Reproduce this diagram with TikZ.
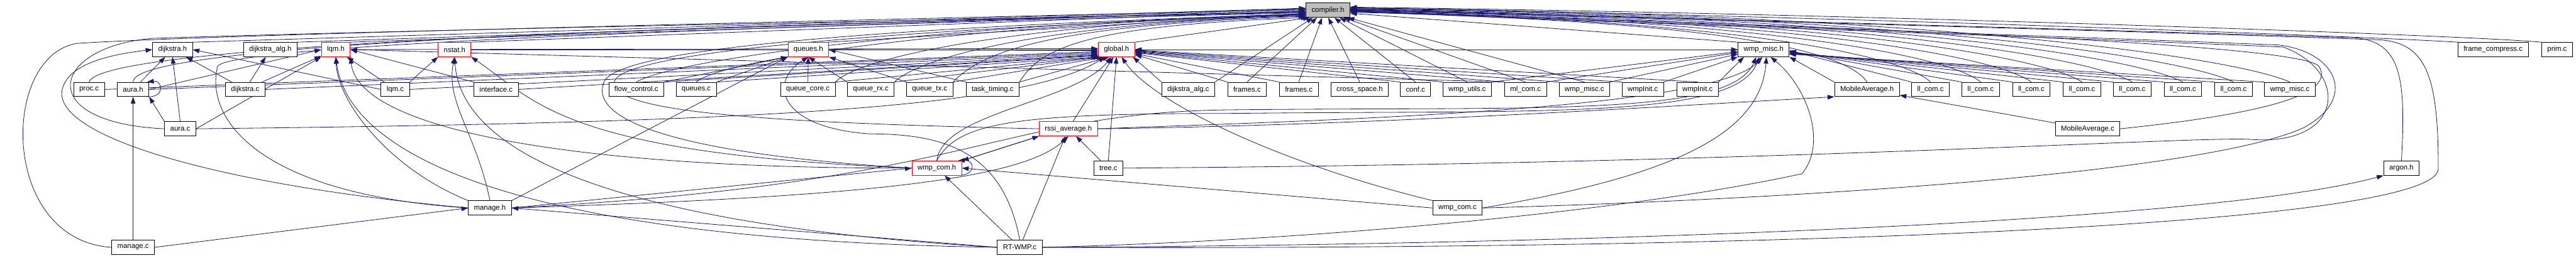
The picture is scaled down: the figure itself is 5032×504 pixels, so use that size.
\documentclass[tikz,border=0pt]{standalone}
\usepackage{fontspec}
\setmainfont{Liberation Sans}
\usetikzlibrary{arrows.meta,backgrounds}
\definecolor{edgeblue}{RGB}{25,25,112}

\begin{document}
\begin{tikzpicture}[
        x=1pt, y=1pt,
        file/.style={draw=black, fill=white, line width=1pt, font=\fontsize{14}{16}\selectfont,
            minimum height=28pt, inner xsep=11pt, inner ysep=0pt},
        trunc/.style={file, draw=red},
        root/.style={file, fill=black!25},
        inc/.style={draw=edgeblue, line width=1pt, -{Triangle[length=13pt,width=9pt]}}
    ]
        \useasboundingbox (0,0) rectangle (5032,-504);

        % Included file
        \node[root] (cmp) at (2594,-20) {compiler.h};

        % Headers
        \node[file] (dijh) at (337,-97) {dijkstra.h};
        \node[file] (dalgh) at (528,-97) {dijkstra\_alg.h};
        \node[trunc] (lqmh) at (656,-97) {lqm.h};
        \node[trunc] (nstath) at (888,-97) {nstat.h};
        \node[trunc] (queuesh) at (1579,-97) {queues.h};
        \node[trunc] (globalh) at (2181,-97) {global.h};
        \node[file] (miscH) at (3445,-97) {wmp\_misc.h};
        \node[file] (fcomp) at (4870,-97) {frame\_compress.c};
        \node[file] (prim) at (4995,-97) {prim.c};

        % Middle row
        \node[file] (procc) at (174,-175) {proc.c};
        \node[file] (aurah) at (260,-175) {aura.h};
        \node[file] (dijc) at (479,-175) {dijkstra.c};
        \node[file] (lqmc) at (772,-175) {lqm.c};
        \node[file] (ifacec) at (969,-175) {interface.c};
        \node[file] (flowc) at (1243,-175) {flow\_control.c};
        \node[file] (queuesc) at (1360,-175) {queues.c};
        \node[file] (qcorec) at (1578,-175) {queue\_core.c};
        \node[file] (qrxc) at (1701,-175) {queue\_rx.c};
        \node[file] (qtxc) at (1816,-175) {queue\_tx.c};
        \node[file] (ttimc) at (1939,-175) {task\_timing.c};
        \node[file] (dalgc) at (2321,-175) {dijkstra\_alg.c};
        \node[file] (framesa) at (2436,-175) {frames.c};
        \node[file] (framesb) at (2537,-175) {frames.c};
        \node[file] (xspace) at (2656,-175) {cross\_space.h};
        \node[file] (confc) at (2765,-175) {conf.c};
        \node[file] (utilsc) at (2866,-175) {wmp\_utils.c};
        \node[file] (mlcom) at (2980,-175) {ml\_com.c};
        \node[file] (miscca) at (3095,-175) {wmp\_misc.c};
        \node[file] (initca) at (3209,-175) {wmpInit.c};
        \node[file] (initcb) at (3316,-175) {wmpInit.c};
        \node[file] (mavgh) at (3647,-175) {MobileAverage.h};
        \node[file] (llcoma) at (3771,-175) {ll\_com.c};
        \node[file] (llcomb) at (3869,-175) {ll\_com.c};
        \node[file] (llcomc) at (3968,-175) {ll\_com.c};
        \node[file] (llcomd) at (4067,-175) {ll\_com.c};
        \node[file] (llcome) at (4165,-175) {ll\_com.c};
        \node[file] (llcomf) at (4264,-175) {ll\_com.c};
        \node[file] (llcomg) at (4363,-175) {ll\_com.c};
        \node[file] (misccb) at (4473,-175) {wmp\_misc.c};

        % Lower rows
        \node[file] (aurac) at (352,-252) {aura.c};
        \node[trunc] (rssih) at (2087,-252) {rssi\_average.h};
        \node[file] (mavgc) at (4078,-252) {MobileAverage.c};
        \node[trunc] (comh) at (1830,-329) {wmp\_com.h};
        \node[file] (treec) at (2165,-329) {tree.c};
        \node[file] (argonh) at (4691,-329) {argon.h};
        \node[file] (manageh) at (957,-407) {manage.h};
        \node[file] (comc) at (2847,-407) {wmp\_com.c};
        \node[file] (managec) at (260,-484) {manage.c};
        \node[file] (rtwmp) at (1992,-484) {RT-WMP.c};

        \begin{scope}[on background layer]
        % Into compiler.h, from the left
        \draw[inc] (dijh.north east) -- ([yshift=4pt]cmp.west);
        \draw[inc] (dalgh.north east) -- ([yshift=3pt]cmp.west);
        \draw[inc] (lqmh.north east) -- ([yshift=1pt]cmp.west);
        \draw[inc] (nstath.north east) -- ([yshift=-1pt]cmp.west);
        \draw[inc] (queuesh.north east) -- ([yshift=-6pt]cmp.west);
        \draw[inc] (procc.north) .. controls (200,-80) and (1500,-50) .. ([yshift=-2pt]cmp.west);
        \draw[inc] (aurah.north) .. controls (255,-78) and (1500,-48) .. ([yshift=-3pt]cmp.west);
        \draw[inc] (aurac.west) .. controls (60,-240) and (100,-90) .. (300,-75) .. controls (800,-58) and (2000,-36) .. ([yshift=-4pt]cmp.west);
        \draw[inc] (managec.west) .. controls (0,-470) and (0,-110) .. (150,-85) .. controls (400,-68) and (1500,-44) .. ([yshift=2pt]cmp.west);
        \draw[inc] (manageh.west) .. controls (500,-380) and (400,-230) .. (425,-130) .. controls (445,-85) and (1600,-48) .. ([yshift=-5pt]cmp.west);
        \draw[inc] (comh.west) .. controls (1300,-300) and (1150,-230) .. (1180,-160) .. controls (1210,-95) and (1700,-55) .. ([yshift=-7pt]cmp.west);
        \draw[inc] (rssih.west) .. controls (1500,-240) and (1190,-220) .. (1200,-160) .. controls (1215,-100) and (1750,-58) .. ([yshift=-8pt]cmp.west);
        \draw[inc] (flowc.north) .. controls (1330,-110) and (1900,-45) .. ([yshift=-8pt]cmp.west);
        \draw[inc] (queuesc.north) .. controls (1420,-110) and (1950,-45) .. ([yshift=-9pt]cmp.west);
        \draw[inc] (qcorec.north east) .. controls (1680,-110) and (2000,-45) .. ([yshift=-10pt]cmp.west);
        \draw[inc] (qrxc.north east) .. controls (1800,-110) and (2050,-45) .. ([yshift=-11pt]cmp.west);
        \draw[inc] (qtxc.north east) .. controls (1920,-100) and (2050,-50) .. ([yshift=-12pt]cmp.west);
        \draw[inc] (ttimc.north east) .. controls (2030,-100) and (2100,-50) .. ([xshift=4pt]cmp.south west);

        % Into compiler.h, from below
        \draw[inc] (globalh.north east) -- ([xshift=8pt]cmp.south west);
        \draw[inc] (dalgc.north east) -- ([xshift=14pt]cmp.south west);
        \draw[inc] (framesa.north) -- ([xshift=22pt]cmp.south west);
        \draw[inc] (framesb.north) -- ([xshift=32pt]cmp.south west);
        \draw[inc] (xspace.north) -- ([xshift=44pt]cmp.south west);
        \draw[inc] (confc.north) -- ([xshift=56pt]cmp.south west);
        \draw[inc] (utilsc.north) -- ([xshift=66pt]cmp.south west);
        \draw[inc] (mlcom.north) -- ([xshift=74pt]cmp.south west);
        \draw[inc] (miscca.north) -- ([xshift=82pt]cmp.south west);

        % Into compiler.h, from the right
        \draw[inc] (miscH.north west) -- ([yshift=-6pt]cmp.east);
        \draw[inc] (mavgh.north) .. controls (3600,-90) and (3300,-40) .. ([yshift=-4pt]cmp.east);
        \draw[inc] (llcoma.north) .. controls (3720,-110) and (3400,-40) .. ([yshift=-3pt]cmp.east);
        \draw[inc] (llcomb.north) .. controls (3810,-110) and (3450,-38) .. ([yshift=-2pt]cmp.east);
        \draw[inc] (llcomc.north) .. controls (3900,-110) and (3500,-36) .. ([yshift=-1pt]cmp.east);
        \draw[inc] (llcomd.north) .. controls (3990,-110) and (3550,-34) .. (cmp.east);
        \draw[inc] (llcome.north) .. controls (4080,-110) and (3600,-32) .. ([yshift=1pt]cmp.east);
        \draw[inc] (llcomf.north) .. controls (4170,-110) and (3650,-30) .. ([yshift=2pt]cmp.east);
        \draw[inc] (llcomg.north) .. controls (4260,-110) and (3700,-28) .. ([yshift=3pt]cmp.east);
        \draw[inc] (misccb.north) .. controls (4360,-110) and (3750,-26) .. ([yshift=4pt]cmp.east);
        \draw[inc] (fcomp.north west) .. controls (4600,-70) and (3500,-30) .. ([yshift=5pt]cmp.east);
        \draw[inc] (prim.north west) .. controls (4800,-68) and (3600,-26) .. ([yshift=6pt]cmp.east);
        \draw[inc] (argonh.north) .. controls (4700,-150) and (4690,-82) .. (4600,-74) .. controls (4000,-55) and (3200,-34) .. ([yshift=2pt]cmp.east);
        \draw[inc] (rtwmp.east) .. controls (3500,-490) and (4763,-440) .. (4763,-330) .. controls (4763,-150) and (4740,-85) .. (4650,-78) .. controls (4000,-55) and (3200,-36) .. ([yshift=1pt]cmp.east);
        \draw[inc] (comc.east) .. controls (3500,-390) and (4300,-340) .. (4500,-250) .. controls (4610,-190) and (4560,-100) .. (4450,-88) .. controls (3800,-62) and (3000,-38) .. (cmp.east);
        \draw[inc] (treec.east) .. controls (3500,-320) and (4300,-265) .. (4400,-273) .. controls (4580,-285) and (4590,-140) .. (4460,-92) .. controls (3800,-64) and (3000,-40) .. ([yshift=-1pt]cmp.east);
        \draw[inc] (mavgc.east) .. controls (4450,-220) and (4560,-180) .. (4530,-130) .. controls (4500,-90) and (3800,-58) .. ([yshift=-2pt]cmp.east);

        % dijkstra.h, dijkstra_alg.h
        \draw[inc] (aurah) -- (dijh);
        \draw[inc] (aurac.north) -- (dijh.south);
        \draw[inc] (dijc) -- (dijh);
        \draw[inc] (lqmc.west) -- (dijh.east);
        \draw[inc] (manageh.west) .. controls (400,-360) and (90,-260) .. (123,-170) .. controls (140,-120) and (230,-105) .. (dijh.west);
        \draw[inc] (dijc) -- (dalgh);

        % lqm.h
        \draw[inc] (aurah.east) -- (lqmh.west);
        \draw[inc] (dijc) -- (lqmh);
        \draw[inc] (aurac.east) -- (lqmh.south west);
        \draw[inc] (lqmc) -- (lqmh);
        \draw[inc] (ifacec.north west) -- (lqmh.east);
        \draw[inc] (mlcom.north west) -- (lqmh.east);
        \draw[inc] (manageh.north west) .. controls (760,-330) and (660,-200) .. (lqmh.south);
        \draw[inc] (rtwmp.west) .. controls (1000,-470) and (680,-300) .. (lqmh.south);
        \draw[inc] (comh.west) .. controls (1100,-330) and (700,-250) .. (lqmh.south east);

        % nstat.h
        \draw[inc] (lqmc.north east) -- (nstath.south west);
        \draw[inc] (manageh.north) .. controls (930,-260) and (870,-200) .. (nstath.south);
        \draw[inc] (rtwmp.west) .. controls (1200,-440) and (900,-300) .. (nstath.south);
        \draw[inc] (comh.west) .. controls (1100,-300) and (1050,-200) .. (nstath.south east);

        % queues.h
        \draw[inc] (flowc.north east) -- (queuesh.south west);
        \draw[inc] (queuesc.north east) -- (queuesh.south west);
        \draw[inc] (qcorec) -- (queuesh);
        \draw[inc] (qrxc.north west) -- (queuesh.south);
        \draw[inc] (qtxc.north west) -- (queuesh.south east);
        \draw[inc] (ttimc.north west) -- (queuesh.east);
        \draw[inc] (manageh.north east) -- (queuesh.south west);
        \draw[inc] (rtwmp.north) .. controls (1960,-300) and (1850,-262) .. (1700,-262) .. controls (1520,-250) and (1500,-160) .. (queuesh.south);

        % global.h
        \draw[inc] (procc.east) -- ([yshift=-4pt]globalh.west);
        \draw[inc] (aurah.east) -- ([yshift=-6pt]globalh.west);
        \draw[inc] (dijc.east) -- ([yshift=-8pt]globalh.west);
        \draw[inc] (lqmc.east) -- ([yshift=-10pt]globalh.west);
        \draw[inc] (ifacec.east) -- ([yshift=-11pt]globalh.west);
        \draw[inc] (lqmh.east) -- ([yshift=2pt]globalh.west);
        \draw[inc] (nstath.east) -- (globalh.west);
        \draw[inc] (queuesh.east) -- ([yshift=-2pt]globalh.west);
        \draw[inc] (flowc.north east) -- ([yshift=-12pt]globalh.west);
        \draw[inc] (queuesc.north east) -- (globalh.south west);
        \draw[inc] (qcorec.north east) -- ([xshift=4pt]globalh.south west);
        \draw[inc] (qrxc.north east) -- ([xshift=10pt]globalh.south west);
        \draw[inc] (qtxc.north east) -- ([xshift=16pt]globalh.south west);
        \draw[inc] (ttimc.north east) -- ([xshift=22pt]globalh.south west);
        \draw[inc] (aurac.east) .. controls (1500,-240) and (2000,-210) .. ([xshift=14pt]globalh.south west);
        \draw[inc] (comh.north) .. controls (1840,-220) and (2100,-200) .. ([xshift=26pt]globalh.south west);
        \draw[inc] (rssih) -- ([xshift=30pt]globalh.south west);
        \draw[inc] (treec.north) -- (globalh.south);
        \draw[inc] (comc.north west) .. controls (2500,-320) and (2250,-200) .. ([xshift=46pt]globalh.south west);
        \draw[inc] (dalgc.north west) -- ([xshift=-4pt]globalh.south east);
        \draw[inc] (framesa.north west) -- ([yshift=-10pt]globalh.east);
        \draw[inc] (framesb.north west) -- ([yshift=-8pt]globalh.east);
        \draw[inc] (confc.north west) -- ([yshift=-6pt]globalh.east);
        \draw[inc] (utilsc.north west) -- ([yshift=-5pt]globalh.east);
        \draw[inc] (mlcom.north west) -- ([yshift=-4pt]globalh.east);
        \draw[inc] (miscca.north west) -- ([yshift=-3pt]globalh.east);
        \draw[inc] (initca.north west) -- ([yshift=-2pt]globalh.east);
        \draw[inc] (initcb.north) -- ([yshift=-1pt]globalh.east);
        \draw[inc] (miscH.west) -- (globalh.east);

        % wmp_misc.h
        \draw[inc] (globalh.east) -- (miscH.west);
        \draw[inc] (utilsc.north east) -- ([yshift=-4pt]miscH.west);
        \draw[inc] (mlcom.north east) -- ([yshift=-6pt]miscH.west);
        \draw[inc] (miscca.north east) -- ([yshift=-9pt]miscH.west);
        \draw[inc] (initca.north east) -- (miscH.south west);
        \draw[inc] (initcb.north east) -- ([xshift=12pt]miscH.south west);
        \draw[inc] (mavgh.north west) -- (miscH.south east);
        \draw[inc] (llcoma.north west) -- ([yshift=-2pt]miscH.east);
        \draw[inc] (llcomb.north west) -- ([yshift=-3pt]miscH.east);
        \draw[inc] (llcomc.north west) -- ([yshift=-4pt]miscH.east);
        \draw[inc] (llcomd.north west) -- ([yshift=-5pt]miscH.east);
        \draw[inc] (llcome.north west) -- ([yshift=-6pt]miscH.east);
        \draw[inc] (llcomf.north west) -- ([yshift=-7pt]miscH.east);
        \draw[inc] (llcomg.north west) -- ([yshift=-8pt]miscH.east);
        \draw[inc] (misccb.north west) -- ([yshift=-9pt]miscH.east);
        \draw[inc] (manageh.east) .. controls (1900,-360) and (1950,-220) .. (2400,-215) .. controls (3000,-208) and (3380,-230) .. ([xshift=36pt]miscH.south west);
        \draw[inc] (comh.north) .. controls (1870,-240) and (1980,-222) .. (2400,-222) .. controls (3000,-215) and (3390,-235) .. ([xshift=42pt]miscH.south west);
        \draw[inc] (rssih.east) .. controls (2600,-235) and (3350,-215) .. ([xshift=48pt]miscH.south west);
        \draw[inc] (comc.east) .. controls (3300,-340) and (3440,-250) .. ([xshift=56pt]miscH.south west);
        \draw[inc] (rtwmp.east) .. controls (2600,-470) and (3200,-410) .. (3520,-340) .. controls (3570,-280) and (3530,-170) .. ([xshift=64pt]miscH.south west);

        % aura.h
        \draw[inc] ([xshift=-2pt]aurah.south east) .. controls +(34,0) and +(30,4) .. ([xshift=-4pt]aurah.north east);
        \draw[inc] (aurac.north west) -- (aurah.south east);
        \draw[inc] (managec) -- (aurah);

        % manage.h
        \draw[inc] (managec.east) -- (manageh.west);
        \draw[inc] (rtwmp.west) -- (manageh.east);

        % wmp_com.h
        \draw[inc] ([xshift=-8pt]comh.south east) .. controls +(36,0) and +(34,2) .. ([xshift=-8pt]comh.north east);
        \draw[inc] (manageh.east) -- (comh.west);
        \draw[inc] (rtwmp) -- (comh);
        \draw[inc] (comc.west) -- (comh.east);
        \draw[inc] (rssih.south west) -- (comh.north east);

        % rssi_average.h
        \draw[inc] (comh.north east) -- (rssih.south west);
        \draw[inc] (treec) -- (rssih);
        \draw[inc] (rtwmp) -- (rssih);
        \draw[inc] (manageh.east) .. controls (1700,-385) and (2000,-350) .. (rssih.south);

        % MobileAverage.h, argon.h
        \draw[inc] (mavgc) -- (mavgh);
        \draw[inc] (rssih.east) .. controls (2700,-245) and (3300,-205) .. (mavgh.south west);
        \draw[inc] (rtwmp.east) .. controls (3000,-480) and (4300,-440) .. (argonh.south west);
        \end{scope}
    \end{tikzpicture}
\end{document}
